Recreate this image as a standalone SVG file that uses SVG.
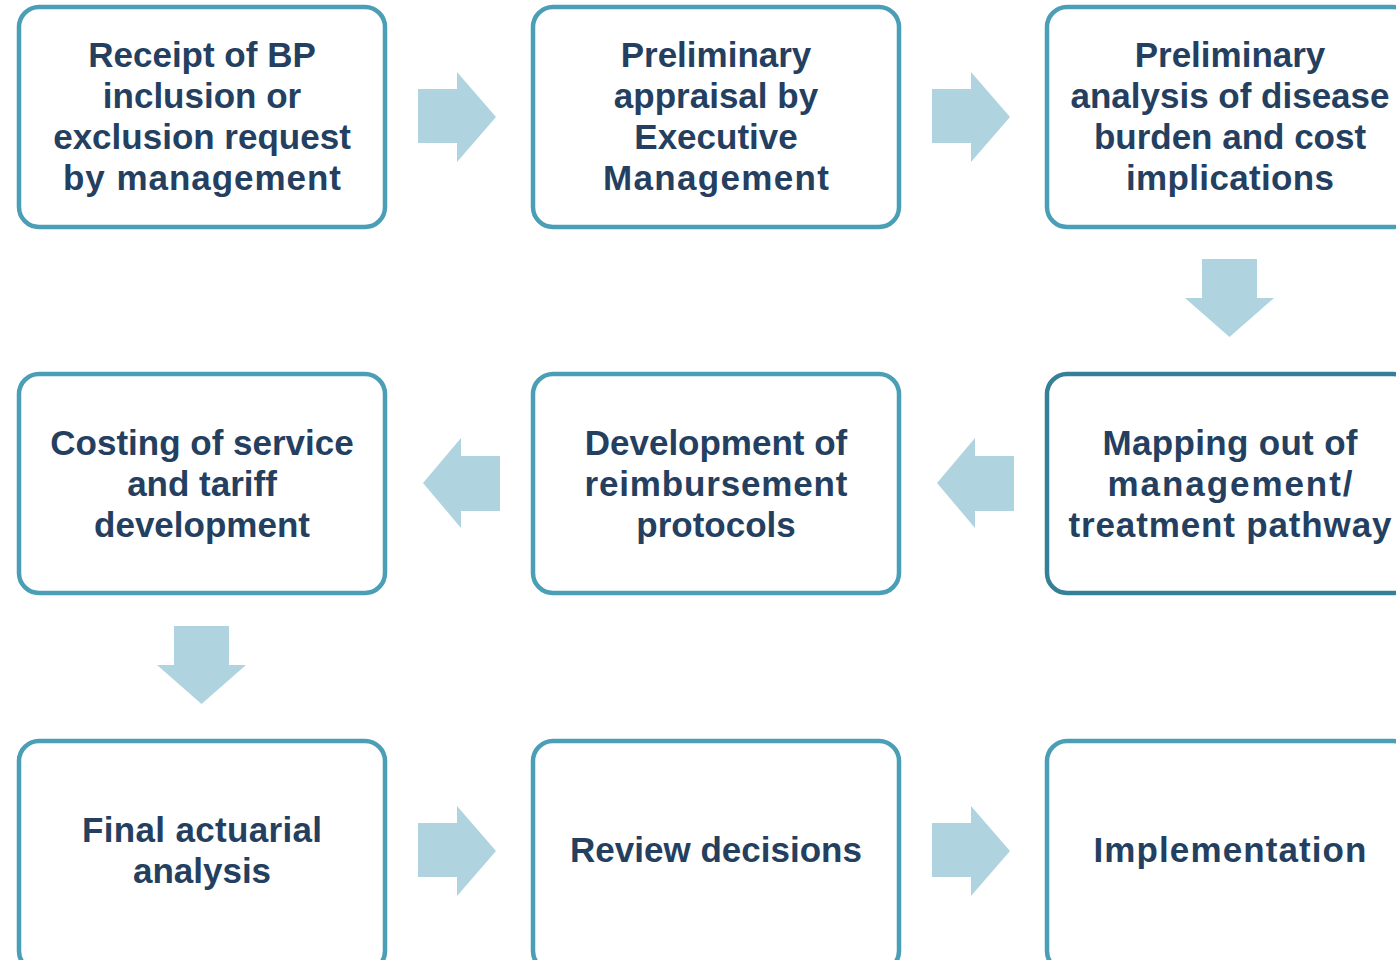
<svg xmlns="http://www.w3.org/2000/svg" width="1396" height="960" viewBox="0 0 1396 960">
  <style>
    .box { fill: #ffffff; stroke: #4a9eb6; stroke-width: 4.5; }
    .box.dark { stroke: #357f98; }
    .lbl { font-family: "Liberation Sans", Arial, sans-serif; font-weight: 700; font-size: 35px; fill: #243f60; text-anchor: middle; }
    .arrow { fill: #b0d4df; }
  </style>
  <rect width="1396" height="960" fill="#ffffff"/>

  <!-- flow arrows between the steps -->
  <g id="connectors">
    <!-- row 1: left to right -->
    <polygon class="arrow" points="418,89 457,89 457,72 496,117 457,162 457,143 418,143"/>
    <polygon class="arrow" points="932,89 971,89 971,72 1010,117 971,162 971,143 932,143"/>
    <!-- down to row 2 -->
    <polygon class="arrow" points="1202,259 1257,259 1257,298 1274,298 1229.5,337 1185,298 1202,298"/>
    <!-- row 2: right to left -->
    <polygon class="arrow" points="1014,456 975,456 975,438 937,483 975,528 975,511 1014,511"/>
    <polygon class="arrow" points="500,456 461,456 461,438 423,483 461,528 461,511 500,511"/>
    <!-- down to row 3 -->
    <polygon class="arrow" points="174,626 229,626 229,665 246,665 201.5,704 157,665 174,665"/>
    <!-- row 3: left to right -->
    <polygon class="arrow" points="418,823 457,823 457,806 496,851 457,896 457,877 418,877"/>
    <polygon class="arrow" points="932,823 971,823 971,806 1010,851 971,896 971,877 932,877"/>
  </g>

  <g id="step-receipt">
    <rect class="box" x="19" y="7" width="366" height="220" rx="20"/>
    <text class="lbl" x="202" y="67">Receipt of BP</text>
    <text class="lbl" x="202" y="108">inclusion or</text>
    <text class="lbl" x="202" y="149">exclusion request</text>
    <text class="lbl" x="202" y="190" textLength="278" lengthAdjust="spacing">by management</text>
  </g>

  <g id="step-appraisal">
    <rect class="box" x="533" y="7" width="366" height="220" rx="20"/>
    <text class="lbl" x="716" y="67">Preliminary</text>
    <text class="lbl" x="716" y="108">appraisal by</text>
    <text class="lbl" x="716" y="149">Executive</text>
    <text class="lbl" x="716" y="190" textLength="226" lengthAdjust="spacing">Management</text>
  </g>

  <g id="step-burden">
    <rect class="box" x="1047" y="7" width="366" height="220" rx="20"/>
    <text class="lbl" x="1230" y="67">Preliminary</text>
    <text class="lbl" x="1230" y="108">analysis of disease</text>
    <text class="lbl" x="1230" y="149">burden and cost</text>
    <text class="lbl" x="1230" y="190" textLength="208" lengthAdjust="spacing">implications</text>
  </g>

  <g id="step-mapping">
    <rect class="box dark" x="1047" y="374" width="366" height="219" rx="20"/>
    <text class="lbl" x="1230" y="455" textLength="255" lengthAdjust="spacing">Mapping out of</text>
    <text class="lbl" x="1230" y="496" textLength="245" lengthAdjust="spacing">management/</text>
    <text class="lbl" x="1230" y="537" textLength="323" lengthAdjust="spacing">treatment pathway</text>
  </g>

  <g id="step-protocols">
    <rect class="box" x="533" y="374" width="366" height="219" rx="20"/>
    <text class="lbl" x="716" y="455">Development of</text>
    <text class="lbl" x="716" y="496" textLength="263" lengthAdjust="spacing">reimbursement</text>
    <text class="lbl" x="716" y="537">protocols</text>
  </g>

  <g id="step-costing">
    <rect class="box" x="19" y="374" width="366" height="219" rx="20"/>
    <text class="lbl" x="202" y="455">Costing of service</text>
    <text class="lbl" x="202" y="496">and tariff</text>
    <text class="lbl" x="202" y="537">development</text>
  </g>

  <g id="step-actuarial">
    <rect class="box" x="19" y="741" width="366" height="230" rx="20"/>
    <text class="lbl" x="202" y="842" textLength="240" lengthAdjust="spacing">Final actuarial</text>
    <text class="lbl" x="202" y="883">analysis</text>
  </g>

  <g id="step-review">
    <rect class="box" x="533" y="741" width="366" height="230" rx="20"/>
    <text class="lbl" x="716" y="862">Review decisions</text>
  </g>

  <g id="step-implementation">
    <rect class="box" x="1047" y="741" width="366" height="230" rx="20"/>
    <text class="lbl" x="1230" y="862" textLength="273" lengthAdjust="spacing">Implementation</text>
  </g>
</svg>
